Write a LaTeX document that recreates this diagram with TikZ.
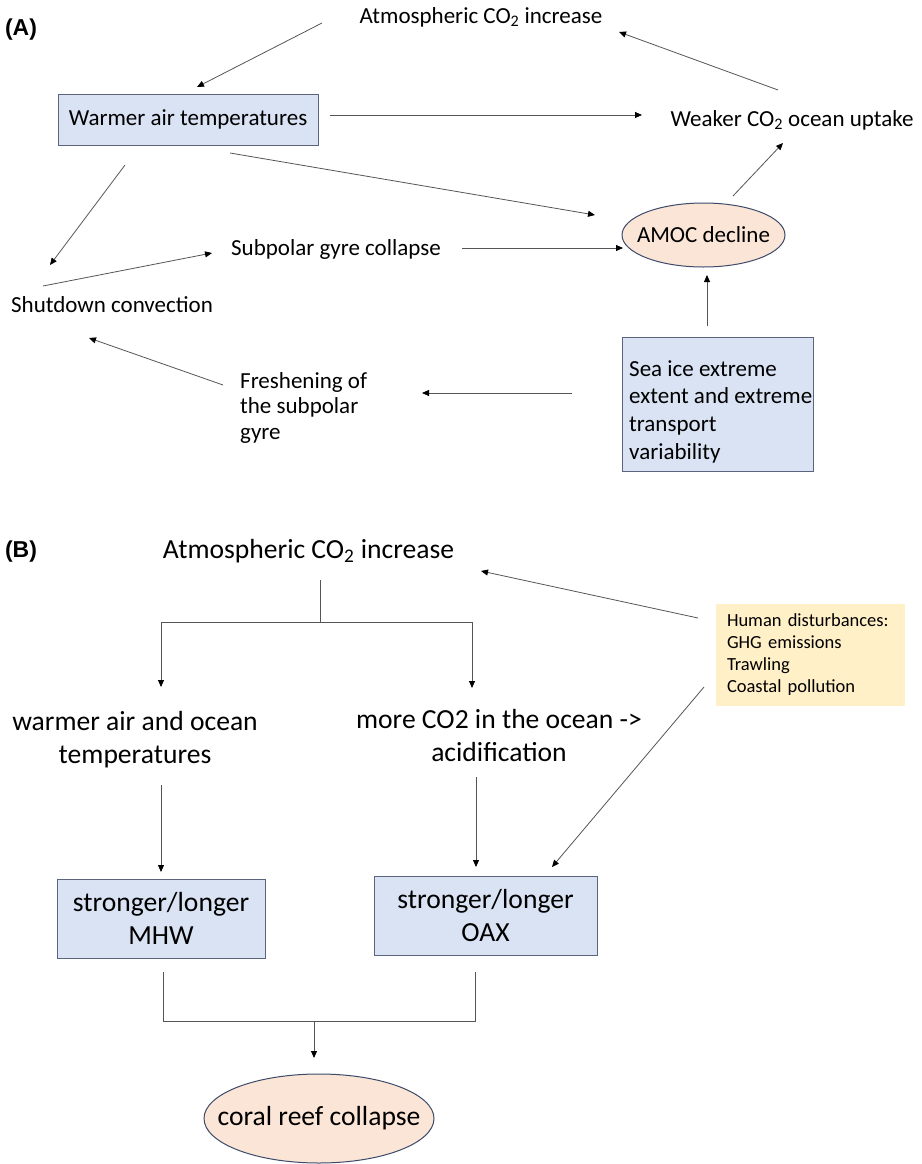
\documentclass[tikz,border=0pt]{standalone}
\usepackage{fontspec}
\setmainfont{Carlito}
\newfontfamily\labfont{Liberation Sans}
\usetikzlibrary{shapes.geometric,arrows.meta}
\definecolor{boxfill}{RGB}{218,227,243}
\definecolor{boxdraw}{RGB}{90,100,125}
\definecolor{ellfill}{RGB}{251,229,214}
\definecolor{elldraw}{RGB}{60,75,105}
\definecolor{humfill}{RGB}{255,240,200}
\definecolor{linec}{RGB}{85,85,85}
\begin{document}
\begin{tikzpicture}[x=1pt,y=-1pt,
  fA/.style={font=\fontsize{23}{27.7}\selectfont},
  fB/.style={font=\fontsize{27.6}{33}\selectfont},
  plain/.style={inner sep=0pt},
  bluebox/.style={draw=boxdraw, fill=boxfill, line width=1pt, inner sep=0pt},
  peach/.style={ellipse, draw=elldraw, fill=ellfill, line width=1pt, inner sep=0pt},
  arr/.style={draw=linec, line width=0.8pt, -{Triangle[length=7pt,width=6pt,color=black]}},
  ln/.style={draw=linec, line width=0.8pt},
  panel/.style={font=\labfont\bfseries\fontsize{23}{27}\selectfont, inner sep=0pt},
]
\useasboundingbox (0,0) rectangle (921,1164);

% ---------------- (A) ----------------
\node[panel] (labA) at (21,30) {(A)};
\node[fA, plain] (atmA) at (481,17) {Atmospheric CO\textsubscript{2} increase};
\node[bluebox, fA, minimum width=260pt, minimum height=51pt] (warm) at (188,119.5) {Warmer air temperatures};
\node[fA, plain] (weak) at (792,120) {Weaker CO\textsubscript{2} ocean uptake};
\node[peach, minimum width=163pt, minimum height=64pt, label={[fA]center:AMOC decline}] (amoc) at (703.5,235) {};
\node[fA, plain] (sub) at (336,249) {Subpolar gyre collapse};
\node[fA, plain] (shut) at (112,305) {Shutdown convection};
\node[plain, align=left, anchor=west, font=\fontsize{23}{25.5}\selectfont] (fresh) at (240,407.5) {Freshening of\\the subpolar\\gyre};
\node[bluebox, minimum width=191pt, minimum height=134pt] (sea) at (717.5,404) {};
\node[fA, plain, align=left, anchor=west] (seatext) at (629,411.5) {Sea ice extreme\\extent and extreme\\transport\\variability};

\draw[arr] ([shift={(-159,6)}]atmA.center) -- ([shift={(9,-32.5)}]warm.center);
\draw[arr] ([shift={(142,-4.5)}]warm.center) -- ([shift={(-150,-5)}]weak.center);
\draw[arr] ([shift={(-14,-30)}]weak.center) -- ([shift={(138,15)}]atmA.center);
\draw[arr] ([shift={(42,33.5)}]warm.center) -- ([shift={(-108.5,-20)}]amoc.center);
\draw[arr] ([shift={(-63,45.5)}]warm.center) -- ([shift={(-62,-40)}]shut.center);
\draw[arr] ([shift={(-69,-19)}]shut.center) -- ([shift={(-124,4)}]sub.center);
\draw[arr] ([shift={(126,-1)}]sub.center) -- ([shift={(-80.5,13)}]amoc.center);
\draw[arr] ([shift={(29.5,-39)}]amoc.center) -- ([shift={(-9,23)}]weak.center);
\draw[arr] ([shift={(-10.5,-78)}]sea.center) -- ([shift={(3.5,40)}]amoc.center);
\draw[arr] ([shift={(-145.5,-11)}]sea.center) -- ([shift={(182,-14.5)}]fresh.west);
\draw[arr] ([shift={(-17,-22.5)}]fresh.west) -- ([shift={(-23,33)}]shut.center);

% ---------------- (B) ----------------
\node[panel] (labB) at (21,552) {(B)};
\node[fB, plain] (atmB) at (308.5,551) {Atmospheric CO\textsubscript{2} increase};
\node[fB, plain, align=center] (warmB) at (135,739.5) {warmer air and ocean\\temperatures};
\node[fB, plain, align=center] (moreB) at (499,736) {more CO2 in the ocean ->\\acidification};
\node[bluebox, fB, align=center, minimum width=208pt, minimum height=79pt] (mhw) at (161,918.5) {stronger/longer\\MHW};
\node[bluebox, fB, align=center, minimum width=223pt, minimum height=79pt] (oax) at (485.5,915.5) {stronger/longer\\OAX};
\node[fill=humfill, text width=167pt, inner xsep=11pt, inner ysep=0pt, minimum height=102pt, align=left,
      font=\fontsize{18.5}{22}\selectfont] (hum) at (810.5,655) {Human disturbances:\\GHG emissions\\Trawling\\Coastal pollution};
\node[peach, minimum width=230pt, minimum height=89pt, label={[fB]center:coral reef collapse}] (coral) at (319,1118.5) {};

\coordinate (splitB) at (320,622);
\draw[ln] ([shift={(11.5,29)}]atmB.center) -- (splitB);
\draw[arr] (splitB) -| ([shift={(26,-52.5)}]warmB.center);
\draw[arr] (splitB) -| ([shift={(-27,-48)}]moreB.center);
\draw[arr] ([shift={(26,45.5)}]warmB.center) -- ([shift={(0,-46.5)}]mhw.center);
\draw[arr] ([shift={(-23,41)}]moreB.center) -- ([shift={(-9.5,-48.5)}]oax.center);
\draw[arr] ([shift={(-112.5,-37)}]hum.center) -- ([shift={(172.5,20)}]atmB.center);
\draw[arr] ([shift={(-106.5,32)}]hum.center) -- ([shift={(66.5,-48.5)}]oax.center);

\coordinate (joinB) at (314,1021);
\draw[ln] ([shift={(2,53.5)}]mhw.center) -- ++(0,49) -- ([shift={(-10.5,105.5)}]oax.center) -- ([shift={(-10.5,56.5)}]oax.center);
\draw[arr] (joinB) -- ([shift={(-5,-60.5)}]coral.center);
\end{tikzpicture}
\end{document}
